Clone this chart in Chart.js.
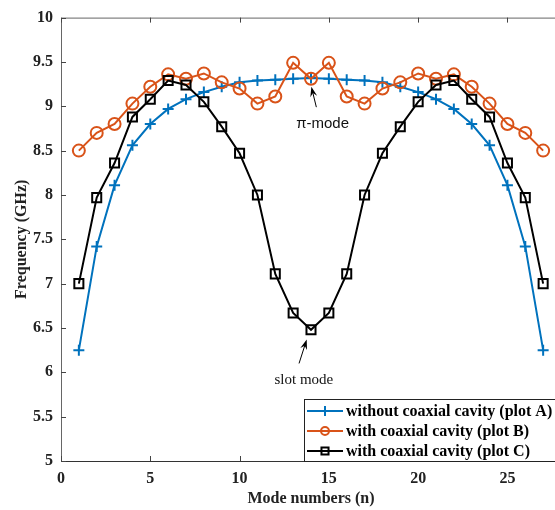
<!DOCTYPE html>
<html>
<head>
<meta charset="utf-8">
<script src="https://cdn.jsdelivr.net/npm/chart.js@4/dist/chart.umd.min.js"></script>
<style>
  html, body { margin: 0; padding: 0; background: #fff; overflow: hidden; }
  #wrap { width: 555px; height: 510px; overflow: hidden; }
</style>
</head>
<body>
<div id="wrap"><canvas id="myChart" width="580" height="510"></canvas></div>
<script>
// values
const modeNumbers = [1, 2, 3, 4, 5, 6, 7, 8, 9, 10, 11, 12, 13, 14, 15, 16, 17, 18, 19, 20, 21, 22, 23, 24, 25, 26, 27];
const plotA = [6.25, 7.42, 8.11, 8.56, 8.80, 8.97, 9.08, 9.16, 9.22, 9.27, 9.29, 9.30, 9.31, 9.32, 9.31, 9.30, 9.29, 9.27, 9.22, 9.16, 9.08, 8.97, 8.80, 8.56, 8.11, 7.42, 6.25];
const plotB = [8.50, 8.70, 8.80, 9.03, 9.22, 9.36, 9.31, 9.37, 9.27, 9.20, 9.03, 9.11, 9.49, 9.31, 9.49, 9.11, 9.03, 9.20, 9.27, 9.37, 9.31, 9.36, 9.22, 9.03, 8.80, 8.70, 8.50];
const plotC = [7.00, 7.97, 8.36, 8.88, 9.08, 9.29, 9.24, 9.05, 8.77, 8.47, 8.00, 7.11, 6.67, 6.48, 6.67, 7.11, 8.00, 8.47, 8.77, 9.05, 9.24, 9.29, 9.08, 8.88, 8.36, 7.97, 7.00];
const seriesLabels = ['without coaxial cavity (plot A)', 'with coaxial cavity (plot B)', 'with coaxial cavity (plot C)'];
const xTicks = [0, 5, 10, 15, 20, 25];
const yTicks = [5, 5.5, 6, 6.5, 7, 7.5, 8, 8.5, 9, 9.5, 10];

const serif = '"Liberation Serif", "Times New Roman", serif';
const sans = '"Liberation Sans", Arial, sans-serif';

function toPoints(vals) {
  return modeNumbers.map((n, i) => ({ x: n, y: vals[i] }));
}

function drawMarker(ctx, style, x, y, r, color) {
  ctx.save();
  ctx.strokeStyle = color;
  ctx.lineWidth = 2;
  ctx.beginPath();
  if (style === 'cross') {
    ctx.moveTo(x - r, y); ctx.lineTo(x + r, y);
    ctx.moveTo(x, y - r); ctx.lineTo(x, y + r);
  } else if (style === 'circle') {
    ctx.arc(x, y, r, 0, Math.PI * 2);
  } else {
    const s = r * Math.SQRT1_2;
    ctx.rect(x - s, y - s, 2 * s, 2 * s);
  }
  ctx.stroke();
  ctx.restore();
}

function arrow(ctx, x1, y1, x2, y2) {
  const a = Math.atan2(y2 - y1, x2 - x1);
  const len = 10, w = 3.5;
  ctx.save();
  ctx.strokeStyle = '#000';
  ctx.fillStyle = '#000';
  ctx.lineWidth = 1;
  ctx.beginPath();
  ctx.moveTo(x1, y1);
  ctx.lineTo(x2 - Math.cos(a) * 6, y2 - Math.sin(a) * 6);
  ctx.stroke();
  const bx = x2 - Math.cos(a) * len, by = y2 - Math.sin(a) * len;
  const mx = x2 - Math.cos(a) * len * 0.65, my = y2 - Math.sin(a) * len * 0.65;
  ctx.beginPath();
  ctx.moveTo(x2, y2);
  ctx.lineTo(bx + Math.sin(a) * w, by - Math.cos(a) * w);
  ctx.lineTo(mx, my);
  ctx.lineTo(bx - Math.sin(a) * w, by + Math.cos(a) * w);
  ctx.closePath();
  ctx.fill();
  ctx.restore();
}

const framePlugin = {
  id: 'frame',
  afterDraw(chart) {
    const ctx = chart.ctx;
    const area = chart.chartArea;
    const xs = chart.scales.x, ys = chart.scales.y;
    ctx.save();
    // box lines
    ctx.lineWidth = 1;
    ctx.strokeStyle = '#666';
    ctx.beginPath();
    ctx.moveTo(area.left + 0.5, area.bottom);
    ctx.lineTo(area.left + 0.5, area.top + 0.5);
    ctx.lineTo(area.right, area.top + 0.5);
    ctx.stroke();
    ctx.strokeStyle = '#333';
    ctx.beginPath();
    ctx.moveTo(area.left, area.bottom + 0.5);
    ctx.lineTo(area.right, area.bottom + 0.5);
    ctx.stroke();
    // inward ticks
    ctx.strokeStyle = '#444';
    ctx.beginPath();
    xTicks.forEach(v => {
      const px = Math.round(xs.getPixelForValue(v)) + 0.5;
      ctx.moveTo(px, area.bottom); ctx.lineTo(px, area.bottom - 5);
      ctx.moveTo(px, area.top); ctx.lineTo(px, area.top + 5);
    });
    yTicks.forEach(v => {
      const py = Math.round(ys.getPixelForValue(v)) + 0.5;
      ctx.moveTo(area.left, py); ctx.lineTo(area.left + 5, py);
    });
    ctx.stroke();

    // annotations
    ctx.fillStyle = '#111';
    ctx.textAlign = 'center';
    ctx.textBaseline = 'middle';
    ctx.font = '15px ' + sans;
    ctx.fillText('\u03c0-mode', xs.getPixelForValue(14.65), ys.getPixelForValue(8.80));
    arrow(ctx, xs.getPixelForValue(14.3), ys.getPixelForValue(8.99), xs.getPixelForValue(14.02), ys.getPixelForValue(9.22));
    ctx.font = '15px ' + serif;
    ctx.fillText('slot mode', xs.getPixelForValue(13.6), ys.getPixelForValue(5.91));
    arrow(ctx, xs.getPixelForValue(13.33), ys.getPixelForValue(6.10), xs.getPixelForValue(13.76), ys.getPixelForValue(6.37));

    // legend box
    const lx = 304, ly = 399, lb = area.bottom;
    ctx.fillStyle = '#fff';
    ctx.fillRect(lx, ly, 400, lb - ly);
    ctx.strokeStyle = '#222';
    ctx.strokeRect(lx + 0.5, ly + 0.5, 400, lb - ly);
    const rows = [411, 431, 451];
    ctx.font = 'bold 16px ' + serif;
    ctx.textAlign = 'left';
    chart.data.datasets.forEach((ds, i) => {
      const y = rows[i];
      ctx.strokeStyle = ds.borderColor;
      ctx.lineWidth = 2;
      ctx.beginPath();
      ctx.moveTo(307, y); ctx.lineTo(343, y);
      ctx.stroke();
      drawMarker(ctx, ds.pointStyle, 325, y, ds.pointStyle === 'circle' ? 4 : 5, ds.borderColor);
      ctx.fillStyle = '#000';
      ctx.fillText(ds.label, 346, y + 1);
    });
    ctx.restore();
  }
};

function myLoadFunction() {
  const ctx = document.getElementById('myChart').getContext('2d');
  new Chart(ctx, {
    type: 'line',
    data: {
      datasets: [
        {
          label: seriesLabels[0],
          data: toPoints(plotA),
          borderColor: '#0072BD',
          backgroundColor: 'rgba(0,0,0,0)',
          borderWidth: 2,
          pointStyle: 'cross',
          pointRadius: 5.5,
          pointBorderWidth: 2,
          order: 3
        },
        {
          label: seriesLabels[1],
          data: toPoints(plotB),
          borderColor: '#D95319',
          backgroundColor: 'rgba(0,0,0,0)',
          borderWidth: 2,
          pointStyle: 'circle',
          pointRadius: 6,
          pointBorderWidth: 2,
          order: 2
        },
        {
          label: seriesLabels[2],
          data: toPoints(plotC),
          borderColor: '#000000',
          backgroundColor: 'rgba(0,0,0,0)',
          borderWidth: 2,
          pointStyle: 'rect',
          pointRadius: 6.4,
          pointBorderWidth: 2,
          order: 1
        }
      ]
    },
    options: {
      responsive: false,
      animation: false,
      layout: { padding: { top: 17, right: 19, left: 0, bottom: 0 } },
      plugins: { legend: { display: false }, tooltip: { enabled: false } },
      scales: {
        x: {
          type: 'linear',
          min: 0,
          max: 28,
          afterFit: s => { s.height = 49; },
          grid: { display: false, drawTicks: false },
          border: { display: false },
          ticks: {
            stepSize: 5,
            includeBounds: false,
            padding: 8,
            color: '#222',
            font: { family: serif, size: 16, weight: 'bold' },
            maxRotation: 0,
            callback: v => String(v)
          },
          title: {
            display: true,
            text: 'Mode numbers (n)',
            color: '#222',
            font: { family: serif, size: 16, weight: 'bold' },
            padding: { top: 0, bottom: 2 }
          }
        },
        y: {
          min: 5,
          max: 10,
          afterFit: s => { s.width = 61; },
          grid: { display: false, drawTicks: false },
          border: { display: false },
          ticks: {
            stepSize: 0.5,
            padding: 8,
            color: '#222',
            font: { family: serif, size: 16, weight: 'bold' },
            callback: v => String(Math.round(v * 10) / 10)
          },
          title: {
            display: true,
            text: 'Frequency (GHz)',
            color: '#222',
            font: { family: serif, size: 16, weight: 'bold' },
            padding: { top: 12, bottom: 0 }
          }
        }
      }
    },
    plugins: [framePlugin]
  });
}
document.addEventListener('DOMContentLoaded', myLoadFunction);
</script>
</body>
</html>
